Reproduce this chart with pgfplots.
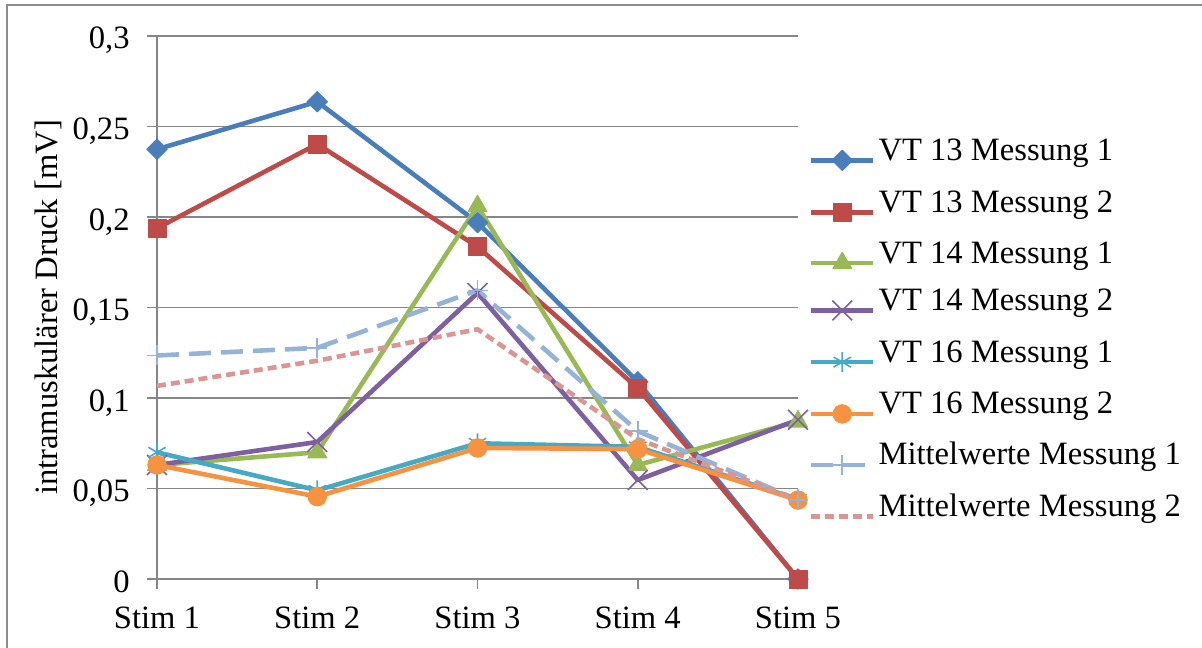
\documentclass[border=0pt]{standalone}
\usepackage{pgfplots}
\pgfplotsset{compat=1.18}
\usepackage{fontspec}
\setmainfont{Liberation Serif}

\definecolor{cblue}{HTML}{4A7EBB}
\definecolor{cred}{HTML}{BE4B48}
\definecolor{cgreen}{HTML}{98B954}
\definecolor{cpurple}{HTML}{7D60A0}
\definecolor{cteal}{HTML}{46AAC5}
\definecolor{corange}{HTML}{F69240}
\definecolor{cmean1}{HTML}{95B3D7}
\definecolor{cmean2}{HTML}{D99694}
\definecolor{gridgray}{HTML}{868686}
\definecolor{framegray}{HTML}{8C8C8C}

\begin{document}
\fontsize{16.3}{19}\selectfont
\begin{tikzpicture}
\begin{axis}[
  at={(78.5pt,-289.5pt)}, anchor=south west,
  scale only axis, width=320.5pt, height=271.5pt,
  xmin=0, xmax=4, ymin=0, ymax=0.3,
  clip=false,
  xtick={0,1,2,3,4},
  xticklabels={Stim 1,Stim 2,Stim 3,Stim 4,Stim 5},
  ytick={0,0.05,0.1,0.15,0.2,0.25,0.3},
  yticklabels={0,{0,05},{0,1},{0,15},{0,2},{0,25},{0,3}},
  scaled y ticks=false,
  ymajorgrids,
  major grid style={gridgray, line width=0.9pt},
  axis x line*=bottom, axis y line*=left,
  axis line style={gridgray, line width=0.9pt, -},
  tick style={gridgray, line width=0.9pt},
  major tick length=5pt, tick align=outside,
  xticklabel style={anchor=base, yshift=-19.5pt, inner sep=0pt},
  yticklabel style={anchor=base east, xshift=-8.5pt, yshift=-6.5pt, inner sep=0pt},
  ylabel={intramuskulärer Druck [mV]},
  ylabel style={at={(axis description cs:-0.1560,0.5)}, anchor=base, inner sep=0pt},
  legend cell align=left,
  legend style={at={(axis description cs:1.0171,0.8097)}, anchor=north west,
    draw=none, fill=none, inner sep=0pt, outer sep=0pt,
    row sep=10.4pt, column sep=1.5pt,
    nodes={inner sep=0pt, text height=10.5pt, text depth=2.5pt, anchor=base west}},
  legend image code/.code={\draw[mark repeat=2,mark phase=2,#1]
    plot coordinates {(0pt,0pt) (15.5pt,0pt) (31pt,0pt)};},
  every axis plot/.append style={line width=2.3pt, line join=round},
]
% VT 13
\addplot[cblue, mark=square*, mark size=3.6pt,
  mark options={rotate=45, solid, fill=cblue, line width=0.5pt}]
  coordinates {(0,0.2374) (1,0.2637) (2,0.1969) (3,0.109) (4,0)};
\addlegendentry{VT 13 Messung 1}
\addplot[cred, mark=square*, mark size=4.5pt,
  mark options={solid, fill=cred, line width=0.5pt}]
  coordinates {(0,0.1938) (1,0.2403) (2,0.1836) (3,0.1055) (4,0)};
\addlegendentry{VT 13 Messung 2}
% VT 14
\addplot[cgreen, mark=triangle*, mark size=5.5pt,
  mark options={solid, fill=cgreen, line width=0.5pt}]
  coordinates {(0,0.063) (1,0.070) (2,0.206) (3,0.063) (4,0.087)};
\addlegendentry{VT 14 Messung 1}
\addplot[cpurple, mark=x, mark size=7pt,
  mark options={solid, line width=0.8pt}]
  coordinates {(0,0.063) (1,0.0757) (2,0.158) (3,0.0547) (4,0.088)};
\addlegendentry{VT 14 Messung 2}
% VT 16
\addplot[cteal, mark=asterisk, mark size=5pt,
  mark options={solid, line width=0.8pt}]
  coordinates {(0,0.070) (1,0.049) (2,0.075) (3,0.073) (4,0.044)};
\addlegendentry{VT 16 Messung 1}
\addplot[corange, mark=*, mark size=4.6pt,
  mark options={solid, fill=corange, line width=0.5pt}]
  coordinates {(0,0.063) (1,0.0455) (2,0.0724) (3,0.0718) (4,0.0436)};
\addlegendentry{VT 16 Messung 2}
% Mean values
\addplot[cmean1, dash pattern=on 11pt off 5pt, mark=+, mark size=5pt,
  mark options={solid, line width=0.8pt}]
  coordinates {(0,0.1235) (1,0.1277) (2,0.1595) (3,0.0817) (4,0.0437)};
\addlegendentry{Mittelwerte Messung 1}
\addplot[cmean2, dash pattern=on 4.5pt off 2.5pt]
  coordinates {(0,0.1067) (1,0.1206) (2,0.138) (3,0.0773) (4,0.0439)};
\addlegendentry{Mittelwerte Messung 2}
\end{axis}
% chart frame
\draw[framegray, line width=1pt] (3.5pt,-340pt) -- (3.5pt,-2.75pt) -- (620pt,-2.75pt);
\pgfresetboundingbox
\path[use as bounding box] (0pt,0pt) rectangle (601pt,-323.5pt);
\end{tikzpicture}
\end{document}
